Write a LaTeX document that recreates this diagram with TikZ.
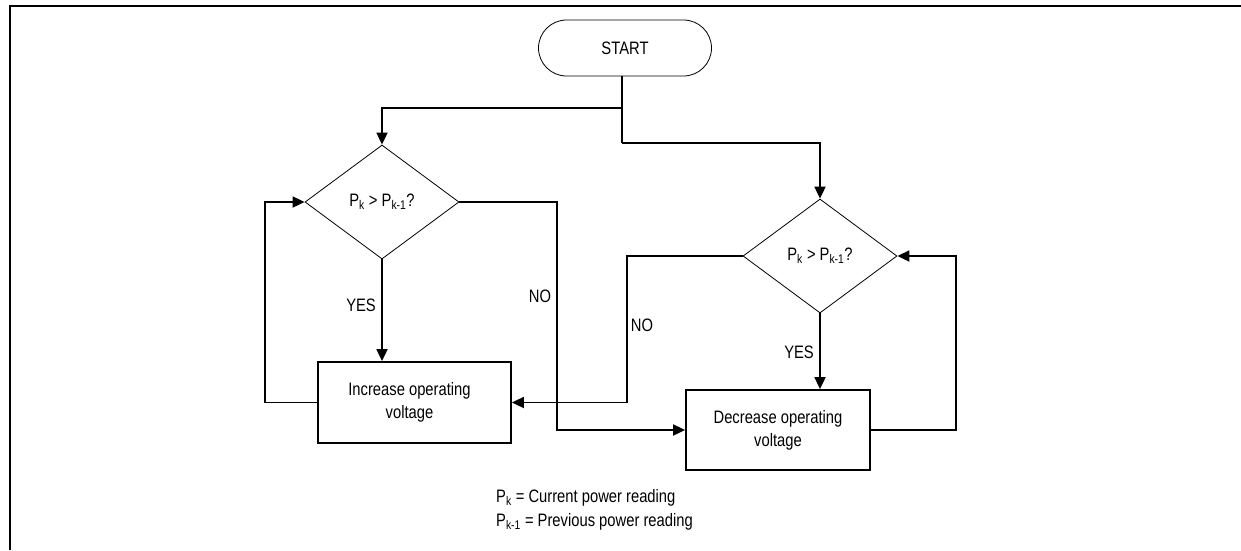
\documentclass[tikz,border=0pt]{standalone}
\usepackage{fontspec}
\setmainfont{Liberation Sans}[FakeStretch=0.82]
\usetikzlibrary{shapes.geometric,arrows.meta}
\tikzset{
  conn/.style={line width=1.8pt,-{Triangle[length=12pt,width=11pt]}},
  plain/.style={line width=1.8pt},
  dec/.style={diamond,draw,line width=0.8pt,minimum width=154pt,minimum height=114pt,inner sep=0pt,font=\fontsize{18}{20}\selectfont},
  proc/.style={rectangle,draw,line width=1.8pt,align=center,inner sep=0pt,font=\fontsize{18}{23}\selectfont},
  lbl/.style={font=\fontsize{18}{20}\selectfont,inner sep=0pt},
  leg/.style={font=\fontsize{18}{20}\selectfont,inner sep=0pt,anchor=west}
}
\begin{document}
\begin{tikzpicture}[x=1pt,y=-1pt]
\useasboundingbox (0,0) rectangle (1241,550);
\draw[line width=2.5pt] (10,550) -- (10,6) -- (1241,6);
\node[draw,line width=0.8pt,rounded corners=28pt,minimum width=173pt,minimum height=56pt,inner sep=0pt,font=\fontsize{18}{20}\selectfont] (S) at (625,48) {START};
\node[dec] (L) at (382,202) {P\textsubscript{k} > P\textsubscript{k-1}?};
\node[dec] (R) at (820,256) {P\textsubscript{k} > P\textsubscript{k-1}?};
\node[proc,minimum width=193pt,minimum height=81pt] (I) at (414.5,402.5) {Increase operating\hspace*{10pt}\\voltage\hspace*{10pt}};
\node[proc,minimum width=184pt,minimum height=80pt] (D) at (778,430) {Decrease operating\\voltage};
\coordinate (st) at (622,76);
\coordinate (b1) at (622,108);
\coordinate (b2) at (622,143);
\draw[plain] (st) -- (b2);
\draw[conn] (b1) -| (L.north);
\draw[conn] (b2) -| (R.north);
\draw[conn] (L.south) -- (L.south |- I.north);
\node[lbl,anchor=east] (y1) at (376,305) {YES};
\draw[conn] (R.south) -- (R.south |- D.north);
\node[lbl,anchor=east] (y2) at (814,352) {YES};
\coordinate (ln) at (557,202);
\draw[conn] (L.east) -- (ln) |- (D.west);
\node[lbl] (n1) at (540,296) {NO};
\coordinate (rn) at (627,256);
\draw[conn] (R.west) -- (rn) |- (I.east);
\node[lbl] (n2) at (642,325) {NO};
\coordinate (ll) at (265,402.5);
\draw[conn] (I.west) -- (ll) |- (L.west);
\coordinate (rl) at (956,430);
\draw[conn] (D.east) -- (rl) |- (R.east);
\node[leg] (l1) at (496,498) {P\textsubscript{k} = Current power reading};
\node[leg] (l2) at (496,522) {P\textsubscript{k-1} = Previous power reading};
\end{tikzpicture}
\end{document}
